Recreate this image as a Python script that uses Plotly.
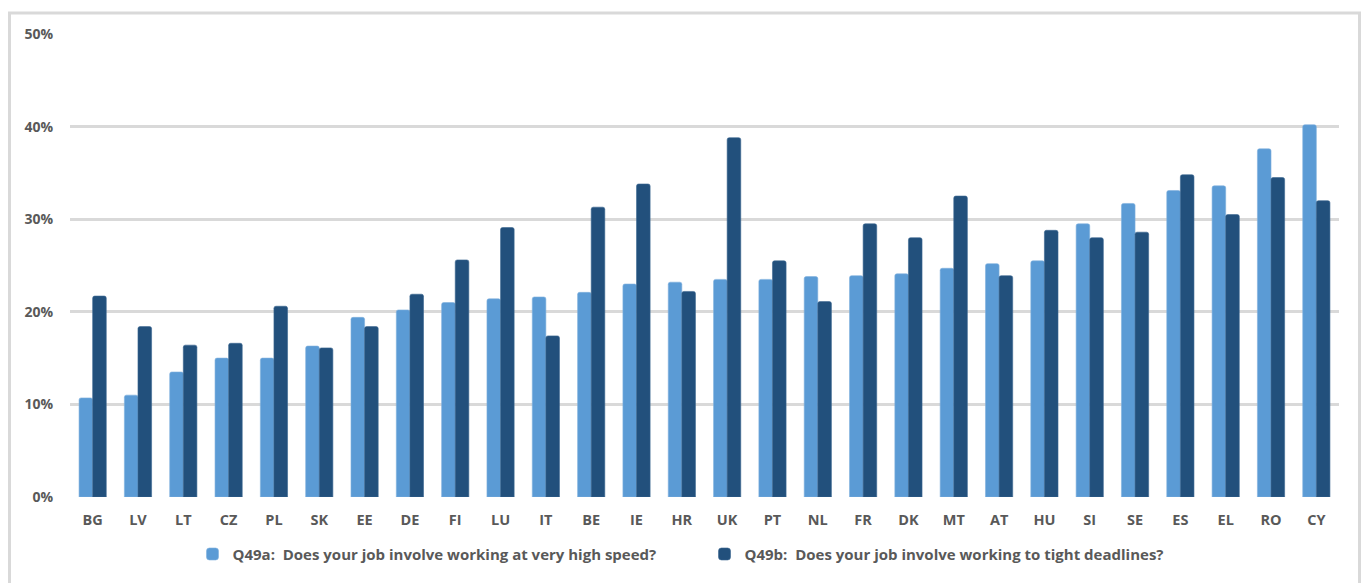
import plotly.graph_objects as go

countries = ["BG", "LV", "LT", "CZ", "PL", "SK", "EE", "DE", "FI", "LU", "IT", "BE", "IE", "HR",
             "UK", "PT", "NL", "FR", "DK", "MT", "AT", "HU", "SI", "SE", "ES", "EL", "RO", "CY"]

high_speed = [10.7, 11.0, 13.5, 15.0, 15.0, 16.3, 19.4, 20.2, 21.0, 21.4, 21.6, 22.1, 23.0, 23.2,
              23.5, 23.5, 23.8, 23.9, 24.1, 24.7, 25.2, 25.5, 29.5, 31.7, 33.1, 33.6, 37.6, 40.2]

tight_deadlines = [21.7, 18.4, 16.4, 16.6, 20.6, 16.1, 18.4, 21.9, 25.6, 29.1, 17.4, 31.3, 33.8, 22.2,
                   38.8, 25.5, 21.1, 29.5, 28.0, 32.5, 23.9, 28.8, 28.0, 28.6, 34.8, 30.5, 34.5, 32.0]

y_ticks = [0, 10, 20, 30, 40, 50]
y_tick_text = ["0%", "10%", "20%", "30%", "40%", "50%"]

name_a = "Q49a:  Does your job involve working at very high speed?"
name_b = "Q49b:  Does your job involve working to tight deadlines?"

LIGHT = "#5b9bd5"
DARK = "#22507c"
GREY_TEXT = "#595959"
GRID = "#d9d9d9"
FONT = "Open Sans"

fig = go.Figure()
fig.add_trace(go.Bar(x=countries, y=high_speed, name=name_a,
                     marker=dict(color=LIGHT, line=dict(color="#7fb0de", width=0.6), cornerradius=2)))
fig.add_trace(go.Bar(x=countries, y=tight_deadlines, name=name_b,
                     marker=dict(color=DARK, line=dict(color="#3a6690", width=0.6), cornerradius=2)))

W, H = 1363, 583
ML, MR, MT, MB = 70, 24, 34, 84

fig.update_layout(
    width=W, height=H,
    margin=dict(l=ML, r=MR, t=MT, b=MB),
    paper_bgcolor="white", plot_bgcolor="white",
    barmode="group", bargap=0.40, bargroupgap=0.0,
    font=dict(family=FONT, color=GREY_TEXT, size=14),
    xaxis=dict(range=[-0.5, len(countries) - 0.5], showgrid=False, showline=False, zeroline=False,
               ticks="", tickfont=dict(family=FONT, size=14.5, weight=700, color=GREY_TEXT),
               ticklabelstandoff=12),
    yaxis=dict(range=[0, 50], tickvals=y_ticks, ticktext=y_tick_text, showgrid=True,
               gridcolor=GRID, gridwidth=3, zeroline=False, showline=False, ticks="",
               tickfont=dict(family=FONT, size=14, weight=700, color=GREY_TEXT),
               ticklabelstandoff=16),
    legend=dict(orientation="h", x=0.5, xanchor="center", y=-0.088, yanchor="top",
                font=dict(family=FONT, size=15, weight=700, color=GREY_TEXT),
                itemwidth=30, entrywidth=467, bgcolor="rgba(0,0,0,0)"),
    showlegend=True,
)

# light frame around the whole chart, open at the bottom edge
plot_w = W - ML - MR
plot_h = H - MT - MB


def px_x(p):
    return (p - ML) / plot_w


def px_y(p):
    return (H - MB - p) / plot_h


fig.add_shape(type="path", xref="paper", yref="paper",
              path=f"M {px_x(9.5)} {px_y(600)} L {px_x(9.5)} {px_y(13)} L {px_x(1359.5)} {px_y(13)} L {px_x(1359.5)} {px_y(600)}",
              line=dict(color=GRID, width=3), layer="below")

fig.write_html("out.html")
